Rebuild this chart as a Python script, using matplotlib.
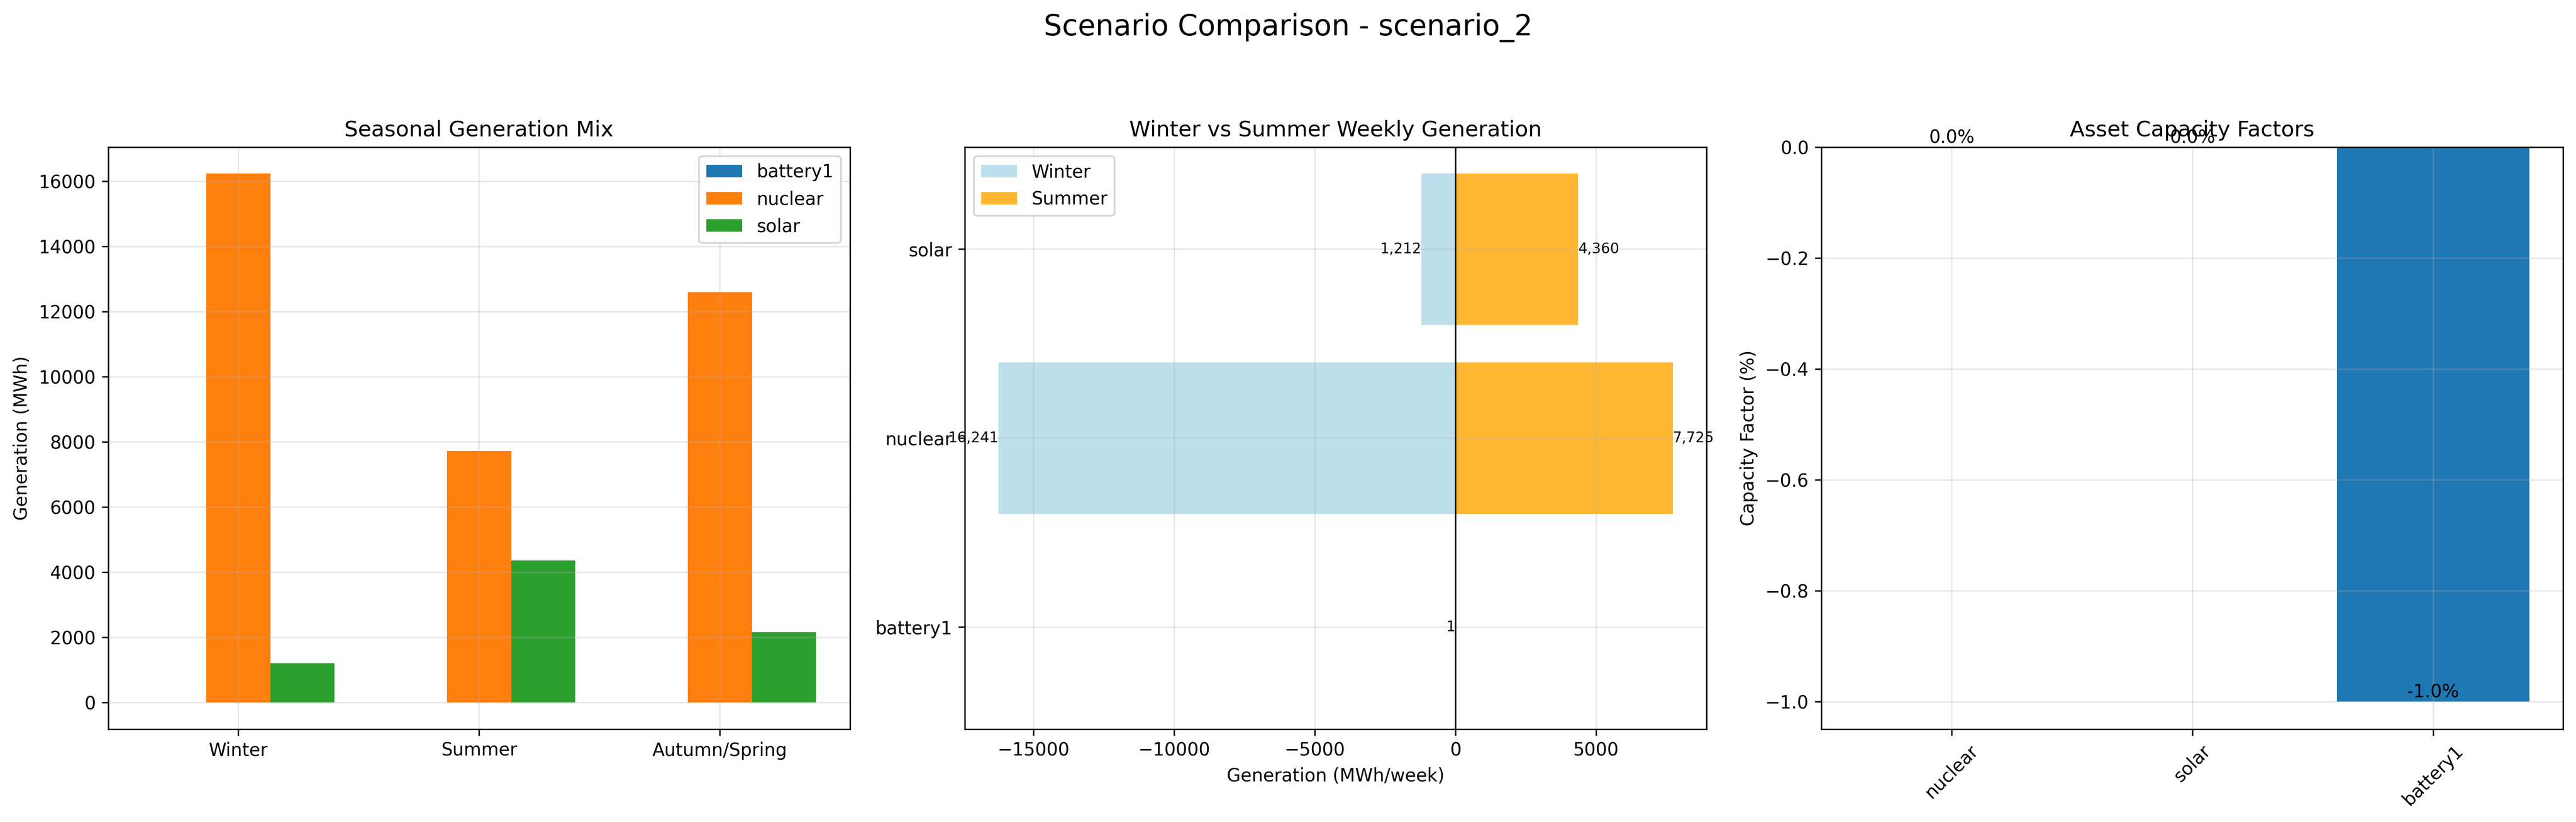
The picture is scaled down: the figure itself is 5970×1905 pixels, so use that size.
import numpy as np
import matplotlib
matplotlib.use("Agg")
import matplotlib.pyplot as plt

# seasonal generation mix (MWh)
seasons = ["Winter", "Summer", "Autumn/Spring"]
assets = ["battery1", "nuclear", "solar"]
battery1_gen = [1, -1, -1]
nuclear_gen = [16241, 7725, 12600]
solar_gen = [1212, 4360, 2160]

# weekly generation, winter vs summer (MWh/week)
week_assets = ["battery1", "nuclear", "solar"]
winter_week = [1, 16241, 1212]
summer_week = [0, 7725, 4360]

# capacity factors (%)
cf_assets = ["nuclear", "solar", "battery1"]
cf_values = [0.0, 0.0, -1.0]

fig, axes = plt.subplots(1, 3, figsize=(19.9, 6.35), dpi=300)
fig.subplots_adjust(left=0.042, right=0.995, bottom=0.113, top=0.821, wspace=0.155)
fig.suptitle("Scenario Comparison - scenario_2", fontsize=16, y=0.957, va="baseline")

# --- panel 1: grouped bars
ax = axes[0]
x = np.arange(len(seasons))
w = 0.8 / 3
series = [battery1_gen, nuclear_gen, solar_gen]
for j, (name, vals) in enumerate(zip(assets, series)):
    ax.bar(x + (j - 1) * w, vals, w, label=name, color=f"C{j}")
ax.set_xticks(x)
ax.set_xticklabels(seasons)
ax.set_title("Seasonal Generation Mix", fontsize=12)
ax.set_ylabel("Generation (MWh)")
ax.legend(loc="upper right")
ax.grid(True, alpha=0.3)

# --- panel 2: back-to-back horizontal bars
ax = axes[1]
y = np.arange(len(week_assets))
ax.barh(y, -np.array(winter_week), color="lightblue", alpha=0.8, label="Winter")
ax.barh(y, summer_week, color="orange", alpha=0.8, label="Summer")
for i in range(len(week_assets)):
    if winter_week[i] > 0:
        ax.text(-winter_week[i], i, f"{winter_week[i]:,.0f}", ha="right", va="center", fontsize=8)
    if summer_week[i] > 0:
        ax.text(summer_week[i], i, f"{summer_week[i]:,.0f}", ha="left", va="center", fontsize=8)
ax.axvline(0, color="black", linewidth=0.8)
ax.set_yticks(y)
ax.set_yticklabels(week_assets)
ax.set_xlabel("Generation (MWh/week)")
ax.set_title("Winter vs Summer Weekly Generation", fontsize=12)
ax.legend(loc="upper left")
ax.grid(True, alpha=0.3)

# --- panel 3: capacity factors
ax = axes[2]
xc = np.arange(len(cf_assets))
bars = ax.bar(xc, cf_values, color="C0")
for b, v in zip(bars, cf_values):
    ax.text(b.get_x() + b.get_width() / 2, b.get_height(), f"{v:.1f}%", ha="center", va="bottom")
ax.set_xticks(xc)
ax.set_xticklabels(cf_assets, rotation=45)
ax.set_ylabel("Capacity Factor (%)")
ax.set_title("Asset Capacity Factors", fontsize=12)
ax.grid(True, alpha=0.3)

fig.savefig("out.png", dpi=300)
